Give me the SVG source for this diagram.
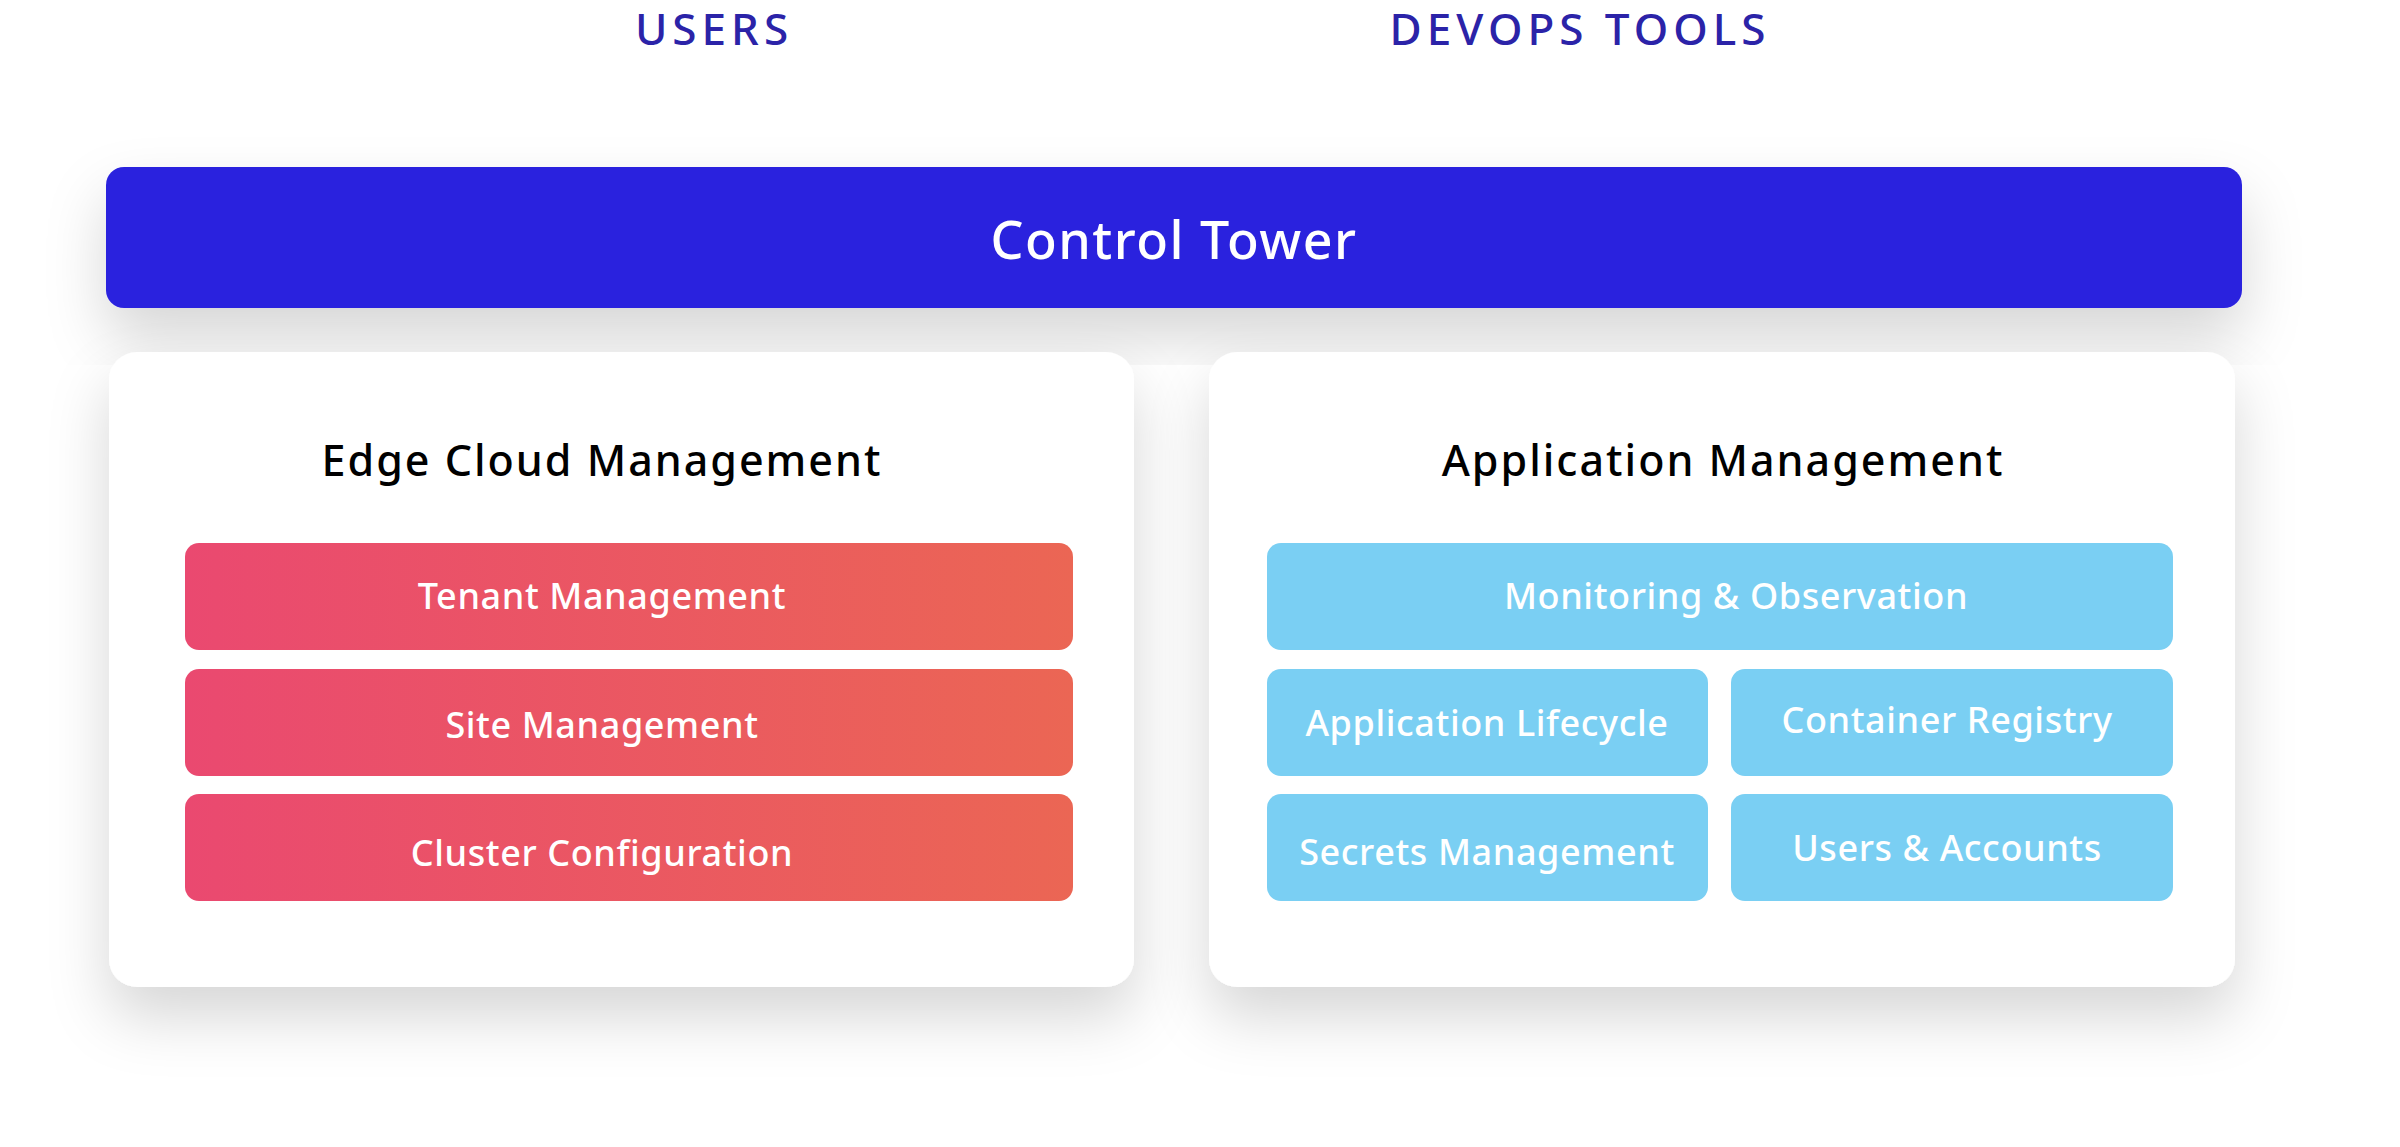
<svg xmlns="http://www.w3.org/2000/svg" width="2400" height="1147" viewBox="0 0 2400 1147">
<defs>
<linearGradient id="red" x1="0" y1="0" x2="1" y2="0"><stop offset="0" stop-color="#EA4970"/><stop offset="1" stop-color="#EB6654"/></linearGradient>
<filter id="sh" x="-20%" y="-30%" width="140%" height="170%"><feDropShadow dx="0" dy="30" stdDeviation="30" flood-color="#000" flood-opacity="0.16"/></filter>
<style>
text{font-family:"Noto Sans","Liberation Sans",sans-serif;text-anchor:middle}
.hd{fill:#2B23A8;font-size:44px;font-weight:500;letter-spacing:5px}
.ti{fill:#000;font-size:43px;font-weight:500;letter-spacing:2px}
.it{fill:#fff;font-size:36px;font-weight:500;letter-spacing:0.6px}
.blue{fill:#7ACFF3}
</style>
</defs>
<rect width="2400" height="1147" fill="#fff"/>
<g id="users"><text class="hd" x="714" y="45">USERS</text></g>
<g id="devops"><text class="hd" x="1580" y="45">DEVOPS TOOLS</text></g>
<g id="control-tower"><rect x="106" y="167" width="2136" height="141" rx="18" fill="#2A22DE" filter="url(#sh)"/><text x="1174" y="259" fill="#fff" font-size="52" font-weight="500" letter-spacing="1.5">Control Tower</text></g>
<g id="edge-cloud"><rect x="109" y="352" width="1025" height="635" rx="28" fill="#fff" filter="url(#sh)"/><text class="ti" x="602" y="476">Edge Cloud Management</text></g>
<g id="tenant"><rect x="185" y="543" width="888" height="107" rx="14" fill="url(#red)"/><text class="it" x="602" y="609">Tenant Management</text></g>
<g id="site"><rect x="185" y="669" width="888" height="107" rx="14" fill="url(#red)"/><text class="it" x="602" y="738">Site Management</text></g>
<g id="cluster"><rect x="185" y="794" width="888" height="107" rx="14" fill="url(#red)"/><text class="it" x="602" y="866">Cluster Configuration</text></g>
<g id="app-mgmt"><rect x="1209" y="352" width="1026" height="635" rx="28" fill="#fff" filter="url(#sh)"/><text class="ti" x="1723" y="476">Application Management</text></g>
<g id="monitoring"><rect class="blue" x="1267" y="543" width="906" height="107" rx="14"/><text class="it" x="1736" y="609">Monitoring &amp; Observation</text></g>
<g id="lifecycle"><rect class="blue" x="1267" y="669" width="441" height="107" rx="14"/><text class="it" x="1487" y="736">Application Lifecycle</text></g>
<g id="registry"><rect class="blue" x="1731" y="669" width="442" height="107" rx="14"/><text class="it" x="1947" y="733">Container Registry</text></g>
<g id="secrets"><rect class="blue" x="1267" y="794" width="441" height="107" rx="14"/><text class="it" x="1487" y="865">Secrets Management</text></g>
<g id="accounts"><rect class="blue" x="1731" y="794" width="442" height="107" rx="14"/><text class="it" x="1947" y="861">Users &amp; Accounts</text></g>
<g id="connectors"/>
</svg>
